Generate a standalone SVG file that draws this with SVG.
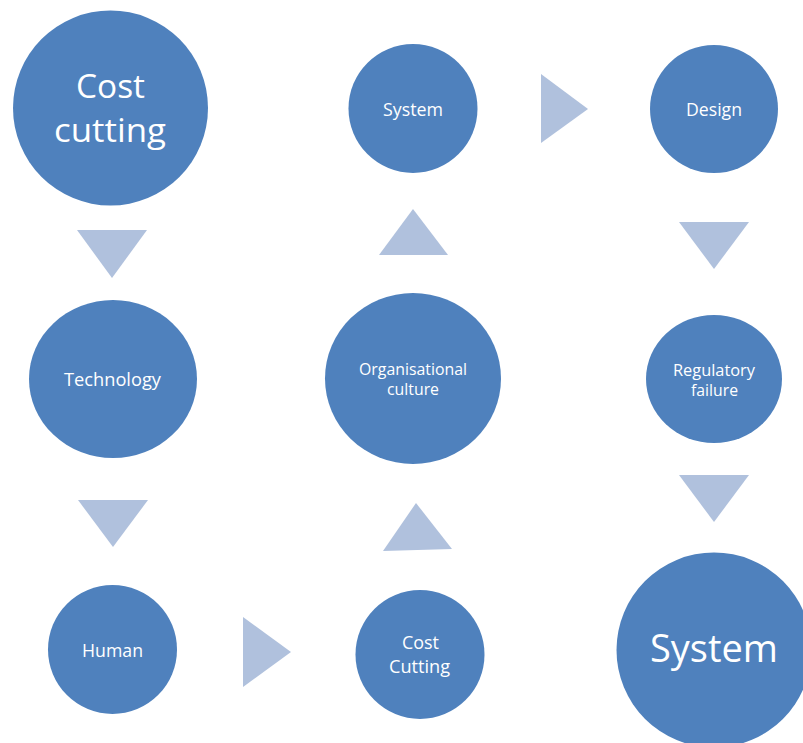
<svg xmlns="http://www.w3.org/2000/svg" width="803" height="743" viewBox="0 0 803 743">
  <style>
    .node { fill: #4f81bd; }
    .arrow { fill: #b0c1dd; }
    .label { fill: #ffffff; font-family: "Open Sans", "Noto Sans", "Liberation Sans", sans-serif; text-anchor: middle; }
    .sm { font-size: 16px; }
    .md { font-size: 17.7px; }
    .lg { font-size: 33.5px; }
    .xl { font-size: 37.5px; }
  </style>
  <rect width="803" height="743" fill="#ffffff"/>

  <!-- chevron-style triangles linking the stages -->
  <g id="connectors">
    <polygon class="arrow" points="77,230 147,230 112,278"/>
    <polygon class="arrow" points="78,500 148,500 113,547"/>
    <polygon class="arrow" points="243,617 243,687 291,652"/>
    <polygon class="arrow" points="383,551 452,549 416,503"/>
    <polygon class="arrow" points="379,255 448,255 413,209"/>
    <polygon class="arrow" points="541,74 541,143 588,109"/>
    <polygon class="arrow" points="679,222 749,222 714,269"/>
    <polygon class="arrow" points="679,475 749,475 714,522"/>
  </g>

  <g id="cost-cutting-start">
    <circle class="node" cx="110.5" cy="108" r="97.5"/>
    <text class="label lg" x="110.5" y="98" textLength="69" lengthAdjust="spacingAndGlyphs">Cost</text>
    <text class="label lg" x="110" y="142" textLength="112" lengthAdjust="spacingAndGlyphs">cutting</text>
  </g>

  <g id="technology">
    <ellipse class="node" cx="113" cy="379" rx="84" ry="79"/>
    <text class="label md" x="112.5" y="386" textLength="97" lengthAdjust="spacingAndGlyphs">Technology</text>
  </g>

  <g id="human">
    <circle class="node" cx="112.5" cy="649.5" r="64.5"/>
    <text class="label md" x="112.5" y="657" textLength="61" lengthAdjust="spacingAndGlyphs">Human</text>
  </g>

  <g id="cost-cutting">
    <circle class="node" cx="420" cy="654.5" r="64.5"/>
    <text class="label md" x="420.5" y="649" textLength="37" lengthAdjust="spacingAndGlyphs">Cost</text>
    <text class="label md" x="419.5" y="673" textLength="61" lengthAdjust="spacingAndGlyphs">Cutting</text>
  </g>

  <g id="organisational-culture">
    <ellipse class="node" cx="413" cy="378.5" rx="88" ry="85.5"/>
    <text class="label sm" x="413" y="375" textLength="108" lengthAdjust="spacingAndGlyphs">Organisational</text>
    <text class="label sm" x="413" y="395" textLength="52" lengthAdjust="spacingAndGlyphs">culture</text>
  </g>

  <g id="system">
    <circle class="node" cx="413" cy="108.5" r="64.5"/>
    <text class="label md" x="413" y="116" textLength="60" lengthAdjust="spacingAndGlyphs">System</text>
  </g>

  <g id="design">
    <circle class="node" cx="714" cy="109" r="64"/>
    <text class="label md" x="714" y="116" textLength="56" lengthAdjust="spacingAndGlyphs">Design</text>
  </g>

  <g id="regulatory-failure">
    <ellipse class="node" cx="714" cy="379" rx="68" ry="64"/>
    <text class="label sm" x="714" y="375.5" textLength="82" lengthAdjust="spacingAndGlyphs">Regulatory</text>
    <text class="label sm" x="714.5" y="395.5" textLength="47" lengthAdjust="spacingAndGlyphs">failure</text>
  </g>

  <g id="system-outcome">
    <circle class="node" cx="714" cy="650" r="97.5"/>
    <text class="label xl" x="714" y="662" textLength="128" lengthAdjust="spacingAndGlyphs">System</text>
  </g>
</svg>
